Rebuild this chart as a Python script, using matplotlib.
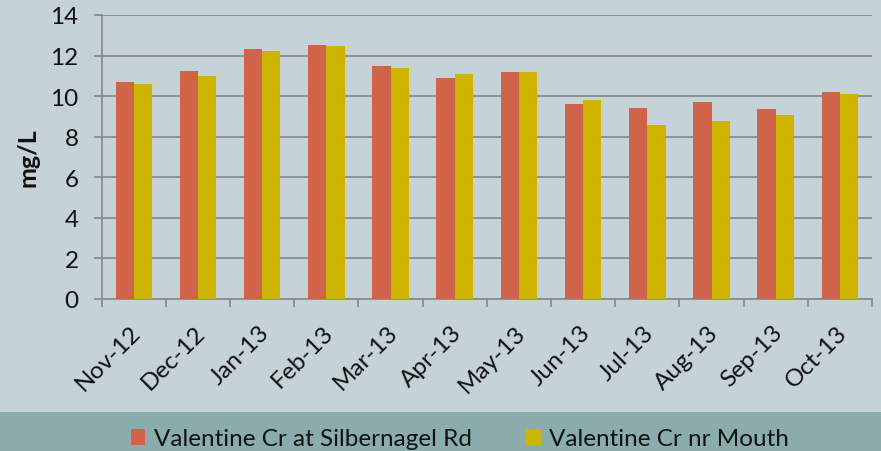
import matplotlib
matplotlib.use("Agg")
import matplotlib.pyplot as plt
import matplotlib.transforms as mtransforms
import numpy as np
from matplotlib.patches import Rectangle

months = ["Nov-12", "Dec-12", "Jan-13", "Feb-13", "Mar-13", "Apr-13",
          "May-13", "Jun-13", "Jul-13", "Aug-13", "Sep-13", "Oct-13"]
silbernagel = [10.68, 11.24, 12.32, 12.50, 11.47, 10.89, 11.19, 9.59, 9.40, 9.69, 9.35, 10.20]
mouth = [10.58, 10.97, 12.22, 12.45, 11.37, 11.07, 11.19, 9.79, 8.58, 8.79, 9.07, 10.09]
series_names = ["Valentine Cr at Silbernagel Rd", "Valentine Cr nr Mouth"]
yticks = [0, 2, 4, 6, 8, 10, 12, 14]

plt.rcParams['font.family'] = ['Lato', 'DejaVu Sans']

bg = "#C5D2D8"
band = "#8BACAC"
red = "#D1634A"
yellow = "#CCB400"
grid = "#8C8C8C"
txt = "#111111"

fig = plt.figure(figsize=(8.81, 4.52), dpi=100, facecolor=bg)
fig.patches.append(Rectangle((0, 0), 1, 39 / 452, transform=fig.transFigure,
                             facecolor=band, edgecolor="none", zorder=0))

ax = fig.add_axes([101.7 / 881, 1 - 300 / 452, (872 - 101.7) / 881, (300 - 16) / 452])
ax.set_facecolor(bg)

x = np.arange(len(months))
w = 0.285
ax.bar(x - w / 2, silbernagel, w, color=red, label=series_names[0], zorder=3)
ax.bar(x + w / 2, mouth, w, color=yellow, label=series_names[1], zorder=3)

ax.set_xlim(-0.5, len(months) - 0.5)
ax.set_ylim(0, 14)
ax.set_yticks(yticks)
ax.set_yticklabels([str(v) for v in yticks], fontsize=17.5, color=txt)
ax.yaxis.grid(True, color=grid, linewidth=1.3, zorder=0)
ax.set_axisbelow(True)

ax.set_xticks(x)
ax.set_xticklabels(months, rotation=45, ha="right", rotation_mode="anchor",
                   fontsize=17.5, color=txt)
ax.tick_params(axis="x", which="major", length=0, pad=16)
offset = mtransforms.ScaledTranslation(-4 / 100, 0, fig.dpi_scale_trans)
for lab in ax.get_xticklabels():
    lab.set_transform(lab.get_transform() + offset)
ax.set_xticks(np.arange(-0.5, len(months) + 0.5, 1), minor=True)
ax.tick_params(axis="x", which="minor", length=6, width=1.3, color=grid, direction="out")
ax.tick_params(axis="y", length=6, width=1.3, color=grid, pad=10.5)

for s in ["top", "right"]:
    ax.spines[s].set_visible(False)
for s in ["left", "bottom"]:
    ax.spines[s].set_color(grid)
    ax.spines[s].set_linewidth(1.3)

fig.text(28 / 881, 1 - 158 / 452, "mg/L", rotation=90, fontsize=18, fontweight="bold",
         ha="center", va="center", color=txt)

leg = fig.legend(loc="center", bbox_to_anchor=(460 / 881, 1 - 440 / 452), ncol=2,
                 frameon=False, fontsize=17.5, handlelength=0.6, handleheight=0.6,
                 handletextpad=0.35, columnspacing=2.25)
for t in leg.get_texts():
    t.set_color(txt)

fig.savefig("out.png", dpi=100, facecolor=bg)
